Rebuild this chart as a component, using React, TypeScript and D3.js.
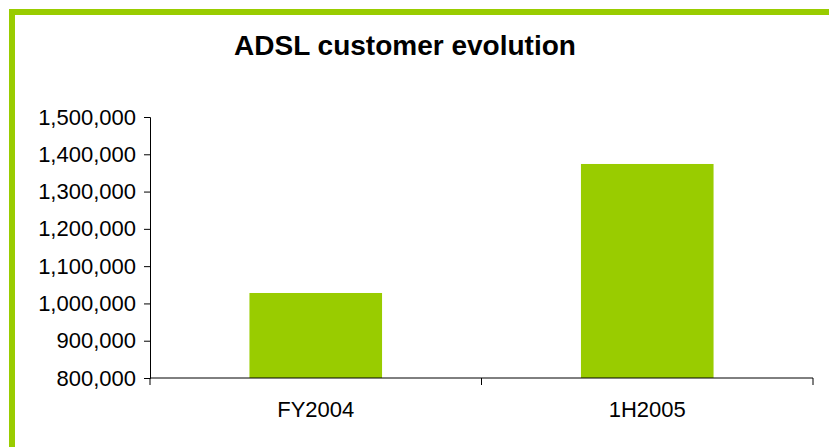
import { useEffect, useRef } from 'react';
import * as d3 from 'd3';

const categories = ['FY2004', '1H2005'];
const customers = [1028000, 1374000];
const yTicks = [800000, 900000, 1000000, 1100000, 1200000, 1300000, 1400000, 1500000];

export default function App() {
  const ref = useRef<SVGSVGElement | null>(null);

  useEffect(() => {
    if (!ref.current) return;
    const svg = d3.select(ref.current);
    svg.selectAll('*').remove();

    const width = 829;
    const height = 447;
    const left = 150;
    const right = 813;
    const top = 117;
    const bottom = 378;
    const green = '#99cc00';
    const font = 'Arial, "Liberation Sans", sans-serif';

    svg.append('rect').attr('width', width).attr('height', height).attr('fill', '#fff');

    // frame: green border along top and left only
    svg.append('path')
      .attr('d', `M12,${height} V12 H${width}`)
      .attr('fill', 'none')
      .attr('stroke', green)
      .attr('stroke-width', 6);

    svg.append('text')
      .attr('x', 405)
      .attr('y', 55)
      .attr('text-anchor', 'middle')
      .attr('font-family', font)
      .attr('font-weight', 'bold')
      .attr('font-size', 28)
      .text('ADSL customer evolution');

    const x = d3.scaleBand<string>().domain(categories).range([left, right]);
    const y = d3.scaleLinear().domain([800000, 1500000]).range([bottom, top]);

    const fmt = d3.format(',');

    const g = svg.append('g');

    // bars
    g.selectAll('rect.bar')
      .data(categories)
      .join('rect')
      .attr('class', 'bar')
      .attr('x', (d) => (x(d) ?? 0) + x.bandwidth() * 0.3)
      .attr('width', x.bandwidth() * 0.4)
      .attr('y', (_, i) => y(customers[i]))
      .attr('height', (_, i) => bottom - y(customers[i]))
      .attr('fill', green);

    // y axis
    const yAxis = g.append('g')
      .attr('transform', `translate(${left},0)`)
      .call(d3.axisLeft(y).tickValues(yTicks).tickFormat((d) => fmt(d as number)).tickSize(6).tickPadding(8));
    yAxis.select('.domain').attr('stroke', '#000');
    yAxis.selectAll('text')
      .attr('font-family', font)
      .attr('font-size', 22)
      .attr('fill', '#000');

    // x axis with ticks between categories
    const xAxis = g.append('g').attr('transform', `translate(0,${bottom})`);
    xAxis.append('line')
      .attr('x1', left)
      .attr('x2', right)
      .attr('stroke', '#000');
    const edges = [left, ...categories.map((c) => (x(c) ?? 0) + x.bandwidth())];
    xAxis.selectAll('line.tick')
      .data(edges)
      .join('line')
      .attr('class', 'tick')
      .attr('x1', (d) => d)
      .attr('x2', (d) => d)
      .attr('y1', 0)
      .attr('y2', 7)
      .attr('stroke', '#000');
    xAxis.selectAll('text')
      .data(categories)
      .join('text')
      .attr('x', (d) => (x(d) ?? 0) + x.bandwidth() / 2)
      .attr('y', 39)
      .attr('text-anchor', 'middle')
      .attr('font-family', font)
      .attr('font-size', 22)
      .text((d) => d);
  }, []);

  return (
    <svg
      ref={ref}
      width={829}
      height={447}
      viewBox="0 0 829 447"
      style={{ position: 'absolute', left: 0, top: 0 }}
    />
  );
}
